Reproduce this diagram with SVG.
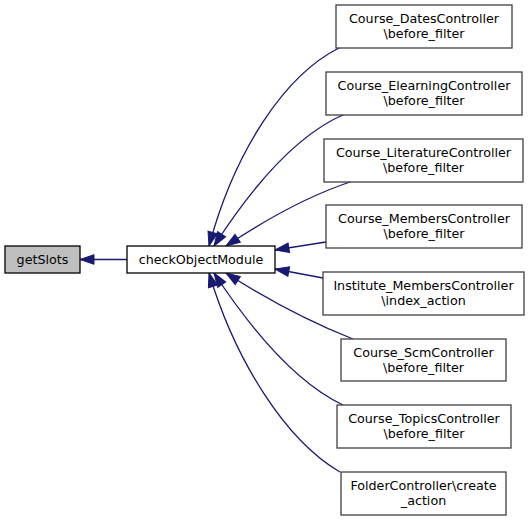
<svg xmlns="http://www.w3.org/2000/svg" width="531" height="520" viewBox="0 0 531 520">
<style>
.box{fill:#ffffff;stroke:#404040;stroke-width:1.3}
.hl{fill:#bfbfbf;stroke:#000000;stroke-width:1.3}
.main{fill:#ffffff;stroke:#000000;stroke-width:1.3}
text{font-family:"DejaVu Sans",sans-serif;font-size:12.7px;fill:#000000;text-anchor:middle}
.edge{fill:none;stroke:#191970;stroke-width:1.3}
</style>
<defs>
<marker id="ah" markerUnits="userSpaceOnUse" markerWidth="16" markerHeight="12" refX="15" refY="6" orient="auto" viewBox="0 0 16 12">
<path d="M1,1.2 L15,6 L1,10.8 z" fill="#191970" stroke="#191970" stroke-width="1"/>
</marker>
</defs>
<g id="connectors">
<path class="edge" d="M127,259.5 L80,259.5" marker-end="url(#ah)"/>
<path class="edge" d="M339,48 C285,75 235,150 209,246" marker-end="url(#ah)"/>
<path class="edge" d="M345,114 C295,135 250,190 214,246" marker-end="url(#ah)"/>
<path class="edge" d="M353,181 C310,195 265,220 226,246" marker-end="url(#ah)"/>
<path class="edge" d="M326,242 L275,250" marker-end="url(#ah)"/>
<path class="edge" d="M323,278 L275,269" marker-end="url(#ah)"/>
<path class="edge" d="M353,339 C310,322 265,298 226,273" marker-end="url(#ah)"/>
<path class="edge" d="M343,405 C290,380 245,320 214,273" marker-end="url(#ah)"/>
<path class="edge" d="M340,472 C285,440 235,360 209,273" marker-end="url(#ah)"/>
</g>
<g id="getSlots"><rect class="hl" x="5" y="246" width="75" height="27"/><text x="42.5" y="264">getSlots</text></g>
<g id="checkObjectModule"><rect class="main" x="127" y="246" width="148" height="27"/><text x="201" y="264">checkObjectModule</text></g>
<g id="Course_DatesController"><rect class="box" x="336" y="5" width="176" height="43"/><text x="424" y="23">Course_DatesController</text><text x="424" y="38">\before_filter</text></g>
<g id="Course_ElearningController"><rect class="box" x="326" y="72" width="196" height="43"/><text x="424" y="90">Course_ElearningController</text><text x="424" y="105">\before_filter</text></g>
<g id="Course_LiteratureController"><rect class="box" x="324" y="139" width="199" height="43"/><text x="423.5" y="157">Course_LiteratureController</text><text x="423.5" y="172">\before_filter</text></g>
<g id="Course_MembersController"><rect class="box" x="326" y="205" width="196" height="43"/><text x="424" y="223">Course_MembersController</text><text x="424" y="238">\before_filter</text></g>
<g id="Institute_MembersController"><rect class="box" x="323" y="272" width="201" height="43"/><text x="423.5" y="290">Institute_MembersController</text><text x="423.5" y="305">\index_action</text></g>
<g id="Course_ScmController"><rect class="box" x="341" y="339" width="165" height="42"/><text x="423.5" y="357">Course_ScmController</text><text x="423.5" y="372">\before_filter</text></g>
<g id="Course_TopicsController"><rect class="box" x="337" y="405" width="174" height="43"/><text x="424" y="423">Course_TopicsController</text><text x="424" y="438">\before_filter</text></g>
<g id="FolderController"><rect class="box" x="341" y="472" width="165" height="43"/><text x="423.5" y="490">FolderController\create</text><text x="423.5" y="505">_action</text></g>
</svg>
